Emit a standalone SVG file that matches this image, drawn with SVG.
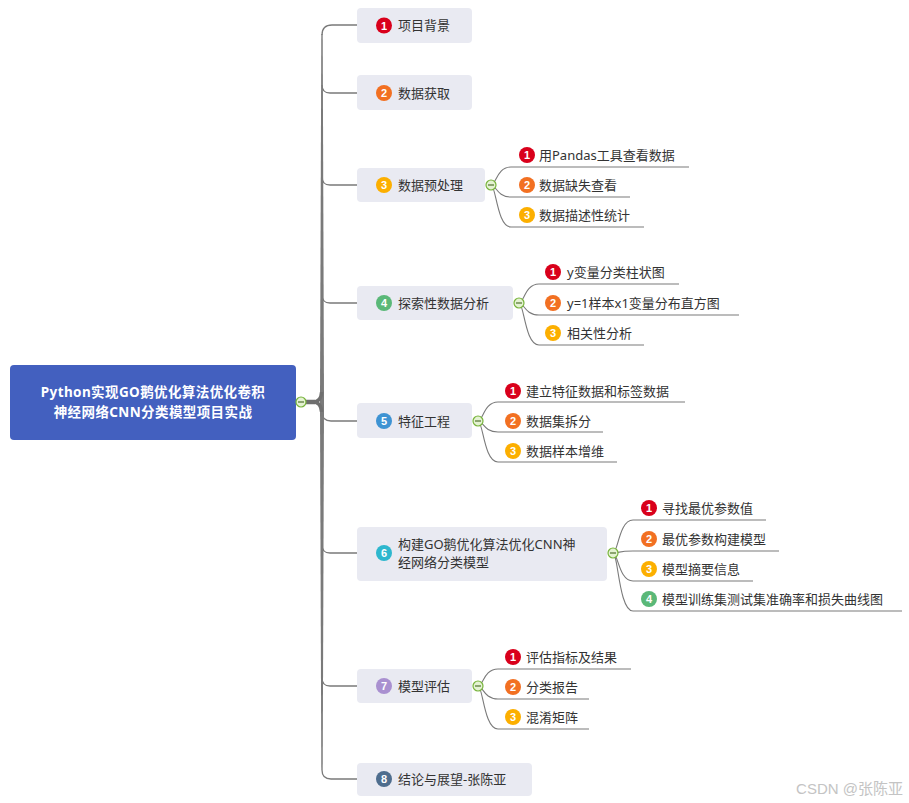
<svg xmlns="http://www.w3.org/2000/svg" width="909" height="803" viewBox="0 0 909 803">
<defs>
<style>
text{font-family:"Noto Sans","Noto Sans CJK SC",sans-serif;}
.box{fill:#E9EAF2;}
.t{font-size:13px;fill:#333333;}
.ct{font-size:13px;fill:#333333;}
.num{font-size:11px;font-weight:bold;fill:#ffffff;text-anchor:middle;font-family:"Liberation Sans",Arial,sans-serif;}
.br{fill:none;stroke:#7a7a7a;stroke-width:1.3;}
.cb{fill:none;stroke:#7a7a7a;stroke-width:1.1;}
.col circle{fill:#E4F2D2;stroke:#78B43C;stroke-width:1.2;}
.col line{stroke:#5a7a3a;stroke-width:1.3;}
</style>
<g id="colTpl" class="col"><circle cx="0" cy="0" r="5"/><line x1="-3" y1="0" x2="3" y2="0"/></g>
</defs>
<rect width="909" height="803" fill="#ffffff"/>

<g id="connectors">
<polygon points="321.3,34 322.7,34 324,396 324,408 322.7,770 321.3,770 320,408 320,396" fill="#7a7a7a"/>
<path class="br" d="M322 35 Q322 25 332 25 L357 25"/>
<path class="br" d="M322 85 Q322 93 330 93 L357 93"/>
<path class="br" d="M322 177 Q322 185 330 185 L357 185"/>
<path class="br" d="M322 295 Q322 303 330 303 L357 303"/>
<path class="br" d="M322 412 Q322 421 331 421 L357 421"/>
<path class="br" d="M322 545 Q322 553 330 553 L357 553"/>
<path class="br" d="M322 678 Q322 686 330 686 L357 686"/>
<path class="br" d="M322 770 Q322 779 331 779 L357 779"/>
<path d="M301 402 L315 402" stroke="#6f6f6f" stroke-width="4.5" fill="none"/>
<path d="M313 402 Q321 402 321.6 392" stroke="#6f6f6f" stroke-width="3.5" fill="none"/>
<path d="M313 402 Q321 402 321.6 412" stroke="#6f6f6f" stroke-width="3.5" fill="none"/>

<path class="cb" d="M491 185 C496 185 497 167 511 167 L689 167"/>
<path class="cb" d="M491 185 C496 185 497 197 511 197 L630 197"/>
<path class="cb" d="M491 185 C496 185 497 227 511 227 L644 227"/>
<path class="cb" d="M519 303 C524 303 525 284 539 284 L679 284"/>
<path class="cb" d="M519 303 C524 303 525 315 539 315 L739 315"/>
<path class="cb" d="M519 303 C524 303 525 345 539 345 L644 345"/>
<path class="cb" d="M478 421 C483 421 484 402 498 402 L685 402"/>
<path class="cb" d="M478 421 C483 421 484 432 498 432 L603 432"/>
<path class="cb" d="M478 421 C483 421 484 462 498 462 L617 462"/>
<path class="cb" d="M613 553 C618 553 619 520 633 520 L766 520"/>
<path class="cb" d="M613 553 C618 553 619 551 633 551 L779 551"/>
<path class="cb" d="M613 553 C618 553 619 581 633 581 L753 581"/>
<path class="cb" d="M613 553 C618 553 619 611 633 611 L902 611"/>
<path class="cb" d="M478 686 C483 686 484 669 498 669 L631 669"/>
<path class="cb" d="M478 686 C483 686 484 699 498 699 L589 699"/>
<path class="cb" d="M478 686 C483 686 484 729 498 729 L589 729"/>
</g>

<g id="root">
<rect x="10" y="365" width="286" height="75" rx="4" fill="#4360BF"/>
<text x="153" y="397" text-anchor="middle" font-size="13.5" font-weight="bold" fill="#ffffff" letter-spacing="0.4">Python实现GO鹅优化算法优化卷积</text>
<text x="153" y="417" text-anchor="middle" font-size="13.5" font-weight="bold" fill="#ffffff" letter-spacing="0.4">神经网络CNN分类模型项目实战</text>
<use href="#colTpl" x="301" y="402"/>
</g>

<g id="n1">
<rect class="box" x="357" y="8" width="115" height="35" rx="4"/>
<circle cx="384" cy="25.5" r="8" fill="#D9001B"/><text class="num" x="384" y="29.5">1</text>
<text class="t" x="398" y="30">项目背景</text>
</g>
<g id="n2">
<rect class="box" x="357" y="75" width="115" height="35" rx="4"/>
<circle cx="384" cy="93" r="8" fill="#F27022"/><text class="num" x="384" y="97">2</text>
<text class="t" x="398" y="97.5">数据获取</text>
</g>
<g id="n3">
<rect class="box" x="357" y="168" width="128" height="34" rx="4"/>
<circle cx="384" cy="185" r="8" fill="#FCAF00"/><text class="num" x="384" y="189">3</text>
<text class="t" x="398" y="189.5">数据预处理</text>
<use href="#colTpl" x="491" y="185"/>
</g>
<g id="n3c1"><circle cx="527" cy="155" r="8" fill="#D9001B"/><text class="num" x="527" y="159">1</text><text class="ct" x="539" y="159.5">用Pandas工具查看数据</text></g>
<g id="n3c2"><circle cx="527" cy="185" r="8" fill="#F27022"/><text class="num" x="527" y="189">2</text><text class="ct" x="539" y="189.5">数据缺失查看</text></g>
<g id="n3c3"><circle cx="527" cy="215" r="8" fill="#FCAF00"/><text class="num" x="527" y="219">3</text><text class="ct" x="539" y="219.5">数据描述性统计</text></g>

<g id="n4">
<rect class="box" x="357" y="286" width="156" height="34" rx="4"/>
<circle cx="384" cy="303" r="8" fill="#5AB878"/><text class="num" x="384" y="307">4</text>
<text class="t" x="398" y="307.5">探索性数据分析</text>
<use href="#colTpl" x="519" y="303"/>
</g>
<g id="n4c1"><circle cx="553" cy="272" r="8" fill="#D9001B"/><text class="num" x="553" y="276">1</text><text class="ct" x="567" y="276.5">y变量分类柱状图</text></g>
<g id="n4c2"><circle cx="553" cy="303" r="8" fill="#F27022"/><text class="num" x="553" y="307">2</text><text class="ct" x="567" y="307.5">y=1样本x1变量分布直方图</text></g>
<g id="n4c3"><circle cx="553" cy="333" r="8" fill="#FCAF00"/><text class="num" x="553" y="337">3</text><text class="ct" x="567" y="337.5">相关性分析</text></g>

<g id="n5">
<rect class="box" x="357" y="403" width="115" height="35" rx="4"/>
<circle cx="384" cy="421" r="8" fill="#3E93D3"/><text class="num" x="384" y="425">5</text>
<text class="t" x="398" y="425.5">特征工程</text>
<use href="#colTpl" x="478" y="421"/>
</g>
<g id="n5c1"><circle cx="513" cy="391" r="8" fill="#D9001B"/><text class="num" x="513" y="395">1</text><text class="ct" x="526" y="395.5">建立特征数据和标签数据</text></g>
<g id="n5c2"><circle cx="513" cy="421" r="8" fill="#F27022"/><text class="num" x="513" y="425">2</text><text class="ct" x="526" y="425.5">数据集拆分</text></g>
<g id="n5c3"><circle cx="513" cy="451" r="8" fill="#FCAF00"/><text class="num" x="513" y="455">3</text><text class="ct" x="526" y="455.5">数据样本增维</text></g>

<g id="n6">
<rect class="box" x="357" y="527" width="250" height="54" rx="4"/>
<circle cx="384" cy="553" r="8" fill="#2EB7CE"/><text class="num" x="384" y="557">6</text>
<text class="t" x="398" y="549">构建GO鹅优化算法优化CNN神</text>
<text class="t" x="398" y="567">经网络分类模型</text>
<use href="#colTpl" x="613" y="553"/>
</g>
<g id="n6c1"><circle cx="649" cy="508" r="8" fill="#D9001B"/><text class="num" x="649" y="512">1</text><text class="ct" x="662" y="512.5">寻找最优参数值</text></g>
<g id="n6c2"><circle cx="649" cy="539" r="8" fill="#F27022"/><text class="num" x="649" y="543">2</text><text class="ct" x="662" y="543.5">最优参数构建模型</text></g>
<g id="n6c3"><circle cx="649" cy="569" r="8" fill="#FCAF00"/><text class="num" x="649" y="573">3</text><text class="ct" x="662" y="573.5">模型摘要信息</text></g>
<g id="n6c4"><circle cx="649" cy="599" r="8" fill="#5AB878"/><text class="num" x="649" y="603">4</text><text class="ct" x="662" y="603.5">模型训练集测试集准确率和损失曲线图</text></g>

<g id="n7">
<rect class="box" x="357" y="669" width="115" height="34" rx="4"/>
<circle cx="384" cy="686" r="8" fill="#A990D0"/><text class="num" x="384" y="690">7</text>
<text class="t" x="398" y="690.5">模型评估</text>
<use href="#colTpl" x="478" y="686"/>
</g>
<g id="n7c1"><circle cx="513" cy="657" r="8" fill="#D9001B"/><text class="num" x="513" y="661">1</text><text class="ct" x="526" y="661.5">评估指标及结果</text></g>
<g id="n7c2"><circle cx="513" cy="687" r="8" fill="#F27022"/><text class="num" x="513" y="691">2</text><text class="ct" x="526" y="691.5">分类报告</text></g>
<g id="n7c3"><circle cx="513" cy="717" r="8" fill="#FCAF00"/><text class="num" x="513" y="721">3</text><text class="ct" x="526" y="721.5">混淆矩阵</text></g>

<g id="n8">
<rect class="box" x="357" y="763" width="175" height="33" rx="4"/>
<circle cx="384" cy="779" r="8" fill="#4E6D8E"/><text class="num" x="384" y="783">8</text>
<text class="t" x="398" y="784">结论与展望-张陈亚</text>
</g>

<text x="903" y="794" text-anchor="end" font-size="15" fill="#c4c4c4" style="font-family:'Liberation Sans','Noto Sans CJK SC',sans-serif">CSDN @张陈亚</text>
</svg>
